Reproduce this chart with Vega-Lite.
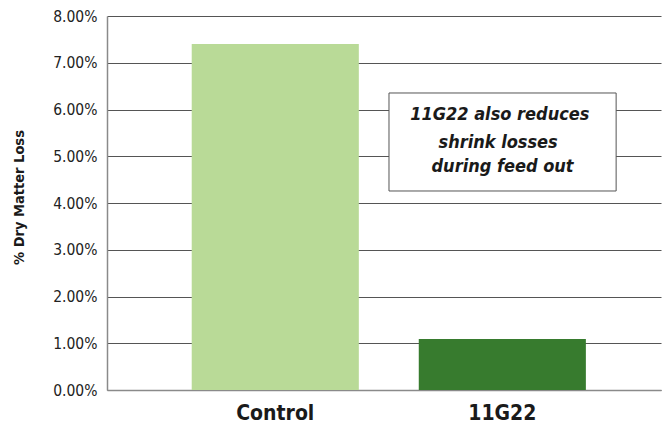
{
  "$schema": "https://vega.github.io/schema/vega-lite/v6.json",
  "width": 554,
  "height": 374,
  "autosize": "none",
  "padding": {"left": 107, "top": 16, "right": 1, "bottom": 35},
  "background": "white",
  "config": {
    "view": {"stroke": null},
    "font": "'DejaVu Sans Condensed', Roboto, sans-serif"
  },
  "layer": [
    {
      "data": {"values": [
        {"group": "Control", "loss": 0.0740},
        {"group": "11G22", "loss": 0.0109}
      ]},
      "mark": {"type": "bar"},
      "encoding": {
        "x": {
          "field": "group", "type": "nominal", "sort": ["Control", "11G22"],
          "scale": {"paddingInner": 0.264, "paddingOuter": 0.352, "align": 0.53},
          "axis": {
            "title": null, "labelAngle": 0, "labelFontSize": 21, "labelFontWeight": "bold",
            "labelColor": "#1a1a1a", "ticks": false, "labelPadding": 12,
            "domainColor": "#8a8a8a", "domainWidth": 1.5
          }
        },
        "y": {
          "field": "loss", "type": "quantitative",
          "scale": {"domain": [0, 0.08]},
          "axis": {
            "title": "% Dry Matter Loss", "titleFontSize": 14.5, "titleFontWeight": "bold",
            "titleColor": "#1a1a1a", "titleX": -88, "titleY": 181, "titleAngle": -90,
            "titleAlign": "center", "titleBaseline": "middle",
            "values": [0, 0.01, 0.02, 0.03, 0.04, 0.05, 0.06, 0.07, 0.08],
            "format": ".2%", "labelFontSize": 15.5, "labelColor": "#222222",
            "ticks": false, "labelPadding": 10,
            "grid": true, "gridColor": "#555555", "gridWidth": 1,
            "domainColor": "#8a8a8a", "domainWidth": 1.5
          }
        },
        "color": {
          "field": "group", "type": "nominal",
          "scale": {"domain": ["Control", "11G22"], "range": ["#b9da97", "#377b2e"]},
          "legend": null
        }
      }
    },
    {
      "data": {"values": [{"x1": 0.509, "x2": 0.919, "y1": 0.06353, "y2": 0.04257}]},
      "mark": {"type": "rect", "fill": "white", "stroke": "#555555", "strokeWidth": 1},
      "encoding": {
        "x": {"field": "x1", "type": "quantitative", "scale": {"domain": [0, 1]}, "axis": null},
        "x2": {"field": "x2"},
        "y": {"field": "y1", "type": "quantitative"},
        "y2": {"field": "y2"}
      }
    },
    {
      "data": {"values": [
        {"line": "11G22 also reduces", "tx": 0.709, "ty": 0.0588},
        {"line": "shrink losses", "tx": 0.706, "ty": 0.0528},
        {"line": "during feed out", "tx": 0.714, "ty": 0.0477}
      ]},
      "mark": {"type": "text", "fontSize": 18, "fontWeight": "bold", "fontStyle": "italic", "color": "#1a1a1a", "align": "center", "baseline": "middle"},
      "encoding": {
        "x": {"field": "tx", "type": "quantitative", "scale": {"domain": [0, 1]}, "axis": null},
        "y": {"field": "ty", "type": "quantitative"},
        "text": {"field": "line"}
      }
    }
  ],
  "resolve": {"scale": {"x": "independent"}}
}
